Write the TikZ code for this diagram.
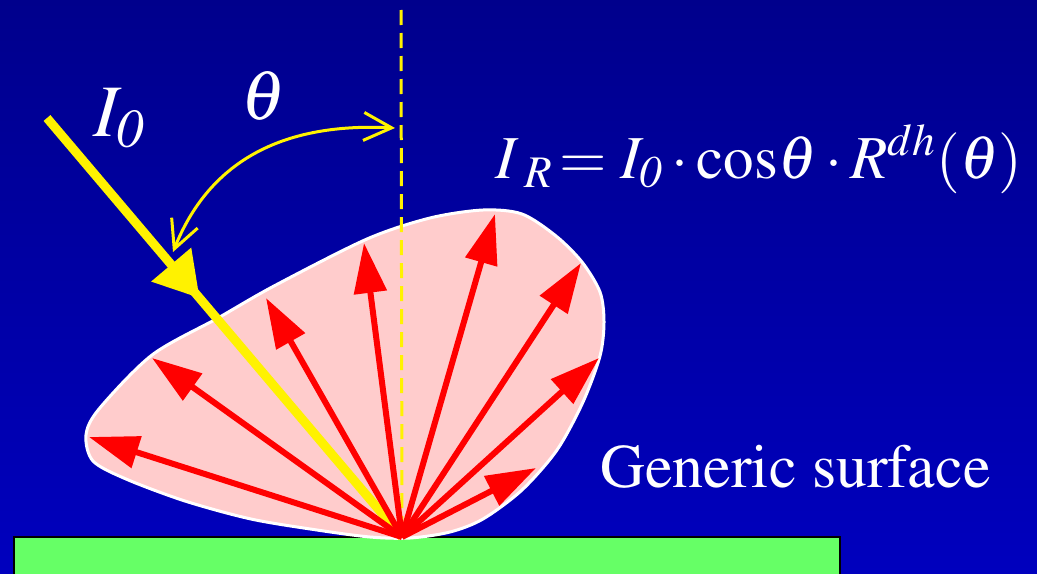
\documentclass[tikz,border=0pt]{standalone}
\usepackage[T1]{fontenc}
\usepackage{mathptmx}
\usetikzlibrary{arrows.meta,decorations.markings}
\definecolor{skytop}{RGB}{0,0,140}
\definecolor{skybot}{RGB}{0,0,190}
\definecolor{lobepink}{RGB}{255,204,204}
\definecolor{ground}{RGB}{102,255,102}

\begin{document}
\begin{tikzpicture}[x=0.5pt,y=-0.5pt,
  refl/.style={red,line width=3pt,-{Triangle[length=25pt,width=16pt]}},
  lbl/.style={white,inner sep=0pt,anchor=base west}]
\useasboundingbox (0,0) rectangle (1037,573);
\shade[top color=skytop,bottom color=skybot] (0,0) rectangle (1037,573);
\draw[black,line width=0.8pt,fill=ground] (14,537) rectangle (840,590);
\draw[white,line width=1.5pt,fill=lobepink] plot[smooth cycle] coordinates {
  (86,435) (99,409) (152,355) (218,318) (274,286) (367,239) (430,218)
  (483,210) (522,214) (556,236) (582,262) (600,292) (604,322) (600,356)
  (583,402) (557,450) (522,490) (483,519) (450,532) (410,538) (370,537)
  (317,530) (251,519) (185,501) (126,479) (93,461)};
\coordinate (O) at (402,537);
\coordinate (top) at (401,10);
\coordinate (src) at (47,118);
\coordinate (arcL) at (173,252);
\coordinate (arcR) at (395,128);
\coordinate (r1) at (89,437);
\coordinate (r2) at (152,358);
\coordinate (r3) at (266,298);
\coordinate (r4) at (364,243);
\coordinate (r5) at (495,214);
\coordinate (r6) at (581,263);
\coordinate (r7) at (599,358);
\coordinate (r8) at (536,468);
\draw[yellow,line width=1.5pt,dash pattern=on 7.5pt off 4pt] (top) -- (O);
\draw[yellow,line width=4.5pt,postaction={decorate},
  decoration={markings,mark=at position 0.43 with {\arrow{Triangle[length=22pt,width=25pt]}}}] (src) -- (O);
\draw[yellow,line width=1.5pt,{Straight Barb[length=14pt,width=14pt]}-{Straight Barb[length=14pt,width=14pt]}]
  (arcL) .. controls (213,152) and (295,123) .. (arcR);
\draw[refl] (O) -- (r1);
\draw[refl] (O) -- (r2);
\draw[refl] (O) -- (r3);
\draw[refl] (O) -- (r4);
\draw[refl] (O) -- (r5);
\draw[refl] (O) -- (r6);
\draw[refl] (O) -- (r7);
\draw[refl] (O) -- (r8);
\node[lbl] (inc) at (93,136) {\fontsize{37}{40}\selectfont$I_{\mathit{0}}$};
\node[lbl,anchor=base] (ang) at (264,119) {\fontsize{35}{40}\selectfont$\theta$};
\node[lbl] (formula) at (495,178) {\fontsize{30.5}{36}\selectfont$I_{\;R}\!=I_{\mathit{0}}\cdot\mathrm{cos}\theta\cdot R^{dh}(\theta)$};
\node[lbl] (surf) at (600,487) {\fontsize{31}{36}\selectfont Generic surface};
\end{tikzpicture}
\end{document}
